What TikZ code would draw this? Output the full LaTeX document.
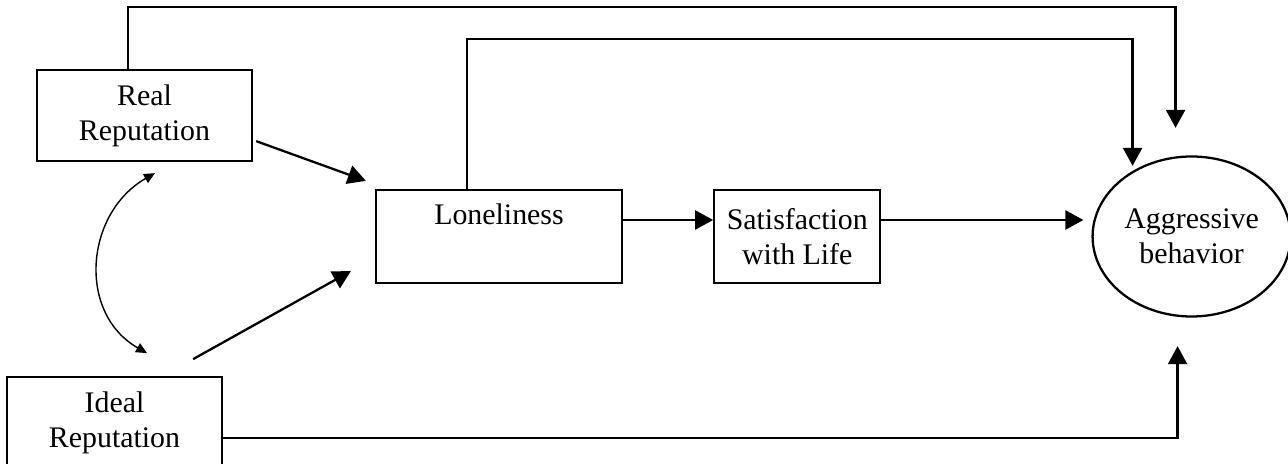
\documentclass[tikz,border=0pt]{standalone}
\usepackage{fontspec}
\setmainfont{Liberation Serif}
\usetikzlibrary{positioning,arrows.meta,shapes.geometric}

\begin{document}
\begin{tikzpicture}[
  box/.style={draw, rectangle, line width=1.3pt, align=center, inner sep=2pt},
  arr/.style={line width=1.3pt, -{Triangle[length=0.36cm,width=0.38cm]}},
  font=\fontsize{17}{20}\selectfont
]
\useasboundingbox (0,0) rectangle (25.76,9.28);

\node (real) [box, minimum width=4.3cm, minimum height=1.82cm] at (2.89,6.97) {Real\\Reputation};
\node (ideal) [box, minimum width=4.3cm, minimum height=1.82cm, below=4.28cm of real, xshift=-0.6cm] {Ideal\\Reputation};
\node (lon) [box, minimum width=4.92cm, minimum height=1.86cm] at (9.98,4.55) {Loneliness\\\strut};
\node (sat) [box, minimum width=3.32cm, minimum height=1.86cm, right=1.8cm of lon] {Satisfaction\\with Life};
\node (agg) [draw, ellipse, line width=1.3pt, align=center, inner sep=0pt, minimum width=3.96cm, minimum height=3.2cm, right=4.2cm of sat] {Aggressive\\behavior};

\draw[arr] ([yshift=0.33cm]lon.east) -- ([yshift=0.33cm]sat.west);
\draw[arr, shorten >=0.16cm] ([yshift=0.33cm]sat.east) -- ([yshift=0.33cm]agg.west);
\draw[arr] ([shift={(0.06,0.42)}]real.south east) -- ([shift={(-0.18,0.16)}]lon.north west);
\draw[arr] ([shift={(-0.6,0.34)}]ideal.north east) -- ([shift={(-0.48,0.26)}]lon.south west);

\draw[arr] ([xshift=-0.33cm]real.north) -- ++(0,1.24) -| ([xshift=-0.32cm,yshift=0.55cm]agg.north);
\draw[arr] ([xshift=-0.64cm]lon.north) -- ++(0,3) -| ([xshift=-1.18cm,yshift=-0.21cm]agg.north);
\draw[arr] ([yshift=-0.31cm]ideal.east) -| ([xshift=-0.28cm,yshift=-0.57cm]agg.south);

\draw[line width=0.8pt, {Triangle[length=0.22cm,width=0.2cm]}-{Triangle[length=0.22cm,width=0.2cm]}] ([shift={(0.21,-0.22)}]real.south) .. controls +(-1.4,-0.8) and +(-1.4,0.8) .. ([shift={(0.65,0.46)}]ideal.north);
\end{tikzpicture}
\end{document}
